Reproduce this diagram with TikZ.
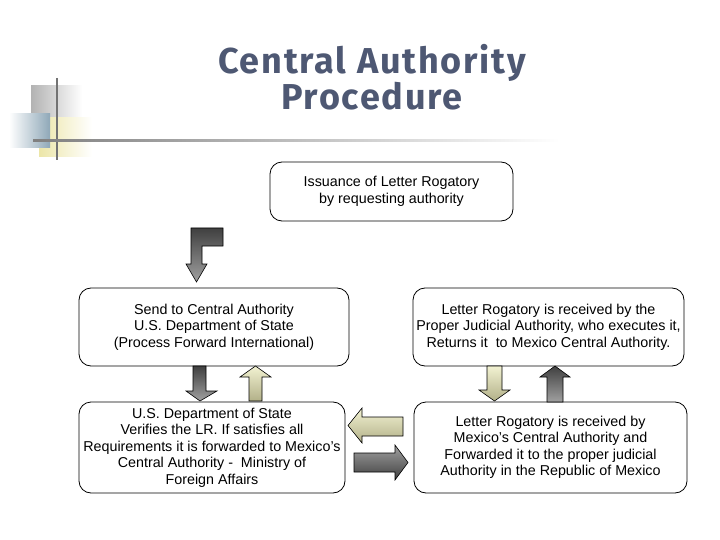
\documentclass[tikz,border=0pt]{standalone}
\usepackage{fontspec}
\setmainfont{Liberation Sans}
\newfontfamily\titlefont[LetterSpace=5]{Fira Sans}
\definecolor{titleblue}{HTML}{4E5873}
\definecolor{darkgrey}{HTML}{404040}
\definecolor{lightgrey}{HTML}{A0A0A0}
\definecolor{paleyellow}{HTML}{F2F2D2}
\definecolor{olive}{HTML}{B2B088}
\definecolor{decoblue}{HTML}{8FA8B8}
\definecolor{decoyellow}{HTML}{ECE6A8}
\tikzset{
  stage/.style={draw, rounded corners=12pt, line width=0.8pt, align=center,
    font=\fontsize{14.3}{16.5}\selectfont, inner sep=0pt},
  darkarrow/.style={draw=black, line width=0.6pt, top color=darkgrey, bottom color=lightgrey},
  lightarrow/.style={draw=black, line width=0.6pt, top color=paleyellow, bottom color=olive}
}
\begin{document}
\begin{tikzpicture}[x=1pt,y=-1pt]
\useasboundingbox (0,0) rectangle (720,540);
% corner decoration
\shade[left color=gray!60, right color=white] (31,86) rectangle (82,131);
\shade[left color=decoyellow, right color=white] (39,118) rectangle (92,157);
\shade[left color=white, right color=decoblue] (9,114) rectangle (50,148);
\draw[line width=1.5pt, gray!90!black] (57,78) -- (57,160);
\shade[left color=gray, right color=white] (33,140) rectangle (560,142);
% title
\node[font=\titlefont\bfseries\fontsize{36}{36}\selectfont, text=titleblue, align=center] (title) at (372,77) {Central Authority\\Procedure};
% stages
\node[stage, minimum width=243pt, minimum height=59pt] (issue) at (391.5,191.5) {Issuance of Letter Rogatory\\by requesting authority};
\node[stage, minimum width=270pt, minimum height=78pt] (send) at (214,327) {Send to Central Authority\\U.S. Department of State\\(Process Forward International)};
\node[stage, minimum width=271pt, minimum height=78pt] (judicial) at (548.5,327) {Letter Rogatory is received by the\\Proper Judicial Authority, who executes it,\\Returns it\ \ to Mexico Central Authority.};
\node[stage, minimum width=266pt, minimum height=91pt] (verify) at (212,447.5) {U.S. Department of State\\Verifies the LR. If satisfies all\\Requirements it is forwarded to Mexico's\\Central Authority -\ \ Ministry of\\Foreign Affairs};
\node[stage, minimum width=273pt, minimum height=91pt] (mexico) at (550.5,447.5) {Letter Rogatory is received by\\Mexico's Central Authority and\\Forwarded it to the proper judicial\\Authority in the Republic of Mexico};
% block arrows
\draw[darkarrow] (191,228) -- (223,228) -- (223,246) -- (202,246) -- (202,264) -- (207,264) -- (196.5,282) -- (186,264) -- (191,264) -- cycle;
\draw[darkarrow] (193,366) -- (206,366) -- (206,391) -- (217,391) -- (200,401) -- (186,391) -- (193,391) -- cycle;
\draw[lightarrow] (249,401) -- (262,401) -- (262,377) -- (271,377) -- (255.5,366) -- (240,377) -- (249,377) -- cycle;
\draw[lightarrow] (487,366) -- (502,366) -- (502,390) -- (510,390) -- (494.5,401) -- (479,390) -- (487,390) -- cycle;
\draw[darkarrow] (547,402) -- (563,402) -- (563,377) -- (570,377) -- (555,366) -- (540,377) -- (547,377) -- cycle;
\draw[lightarrow] (403,417) -- (362,417) -- (362,408) -- (348,425.5) -- (362,443) -- (362,436) -- (403,436) -- cycle;
\draw[darkarrow, top color=lightgrey, bottom color=darkgrey] (354,453) -- (395,453) -- (395,445) -- (408,462.5) -- (395,480) -- (395,472) -- (354,472) -- cycle;
\end{tikzpicture}
\end{document}
